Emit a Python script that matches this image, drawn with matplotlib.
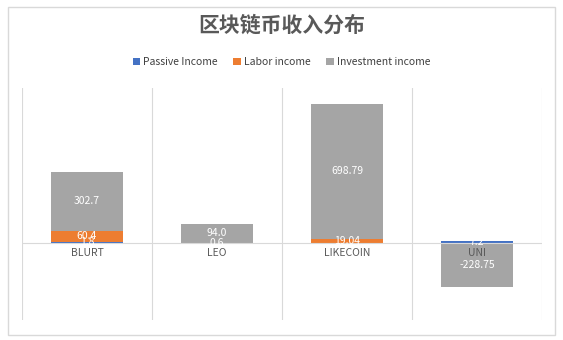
import matplotlib.pyplot as plt
import numpy as np

plt.rcParams['font.family'] = ['Noto Sans CJK SC', 'DejaVu Sans']

categories = ['BLURT', 'LEO', 'LIKECOIN', 'UNI']
passive = [1.8, 0.0, 0.0, 7.2]
labor = [60.4, 0.6, 19.04, 0.0]
investment = [302.7, 94.0, 698.79, -228.75]
passive_labels = ['1.8', '', '', '7.2']
labor_labels = ['60.4', '0.6', '19.04', '']
invest_labels = ['302.7', '94.0', '698.79', '-228.75']

fig = plt.figure(figsize=(5.63, 3.4), dpi=100)
ax = fig.add_axes([0.039, 0.059, 0.924, 0.682])

# chart border
fig.patches.append(plt.Rectangle((0.014, 0.015), 0.972, 0.965, transform=fig.transFigure,
                                 fill=False, edgecolor='#d9d9d9', linewidth=1))

x = np.arange(len(categories))
w = 0.55
blue, orange, grey = '#4472C4', '#ED7D31', '#A5A5A5'

b1 = ax.bar(x, passive, w, color=blue, label='Passive Income')
b2 = ax.bar(x, labor, w, bottom=passive, color=orange, label='Labor income')
pos_base = [p + l for p, l in zip(passive, labor)]
inv_base = [b if v >= 0 else 0 for b, v in zip(pos_base, investment)]
b3 = ax.bar(x, investment, w, bottom=inv_base, color=grey, label='Investment income')

for bars, labels in [(b1, passive_labels), (b2, labor_labels), (b3, invest_labels)]:
    for rect, lab in zip(bars, labels):
        if not lab:
            continue
        cy = rect.get_y() + rect.get_height() / 2
        ax.text(rect.get_x() + rect.get_width() / 2, cy, lab, ha='center', va='center',
                color='white', fontsize=7.5)

ax.set_xlim(-0.5, 3.5)
ax.set_ylim(-400, 800)
for xv in np.arange(-0.5, 4.0, 1.0):
    ax.axvline(xv, color='#d9d9d9', linewidth=0.8, zorder=0)
ax.axhline(0, color='#d9d9d9', linewidth=0.8, zorder=1)

for s in ax.spines.values():
    s.set_visible(False)
ax.set_yticks([])
ax.set_xticks([])
for xi, c in zip(x, categories):
    ax.text(xi, -28, c, ha='center', va='top', color='#595959', fontsize=7.5)

fig.text(0.5, 0.925, '区块链币收入分布', ha='center', va='center', fontsize=15,
         color='#595959', fontweight='bold')
fig.legend(handles=[b1, b2, b3], loc='center', bbox_to_anchor=(0.5, 0.818), ncol=3,
           frameon=False, fontsize=7.5, handlelength=0.7, handleheight=0.7,
           handletextpad=0.3, columnspacing=1.5, labelcolor='#404040')

fig.savefig('out.png', dpi=100)
